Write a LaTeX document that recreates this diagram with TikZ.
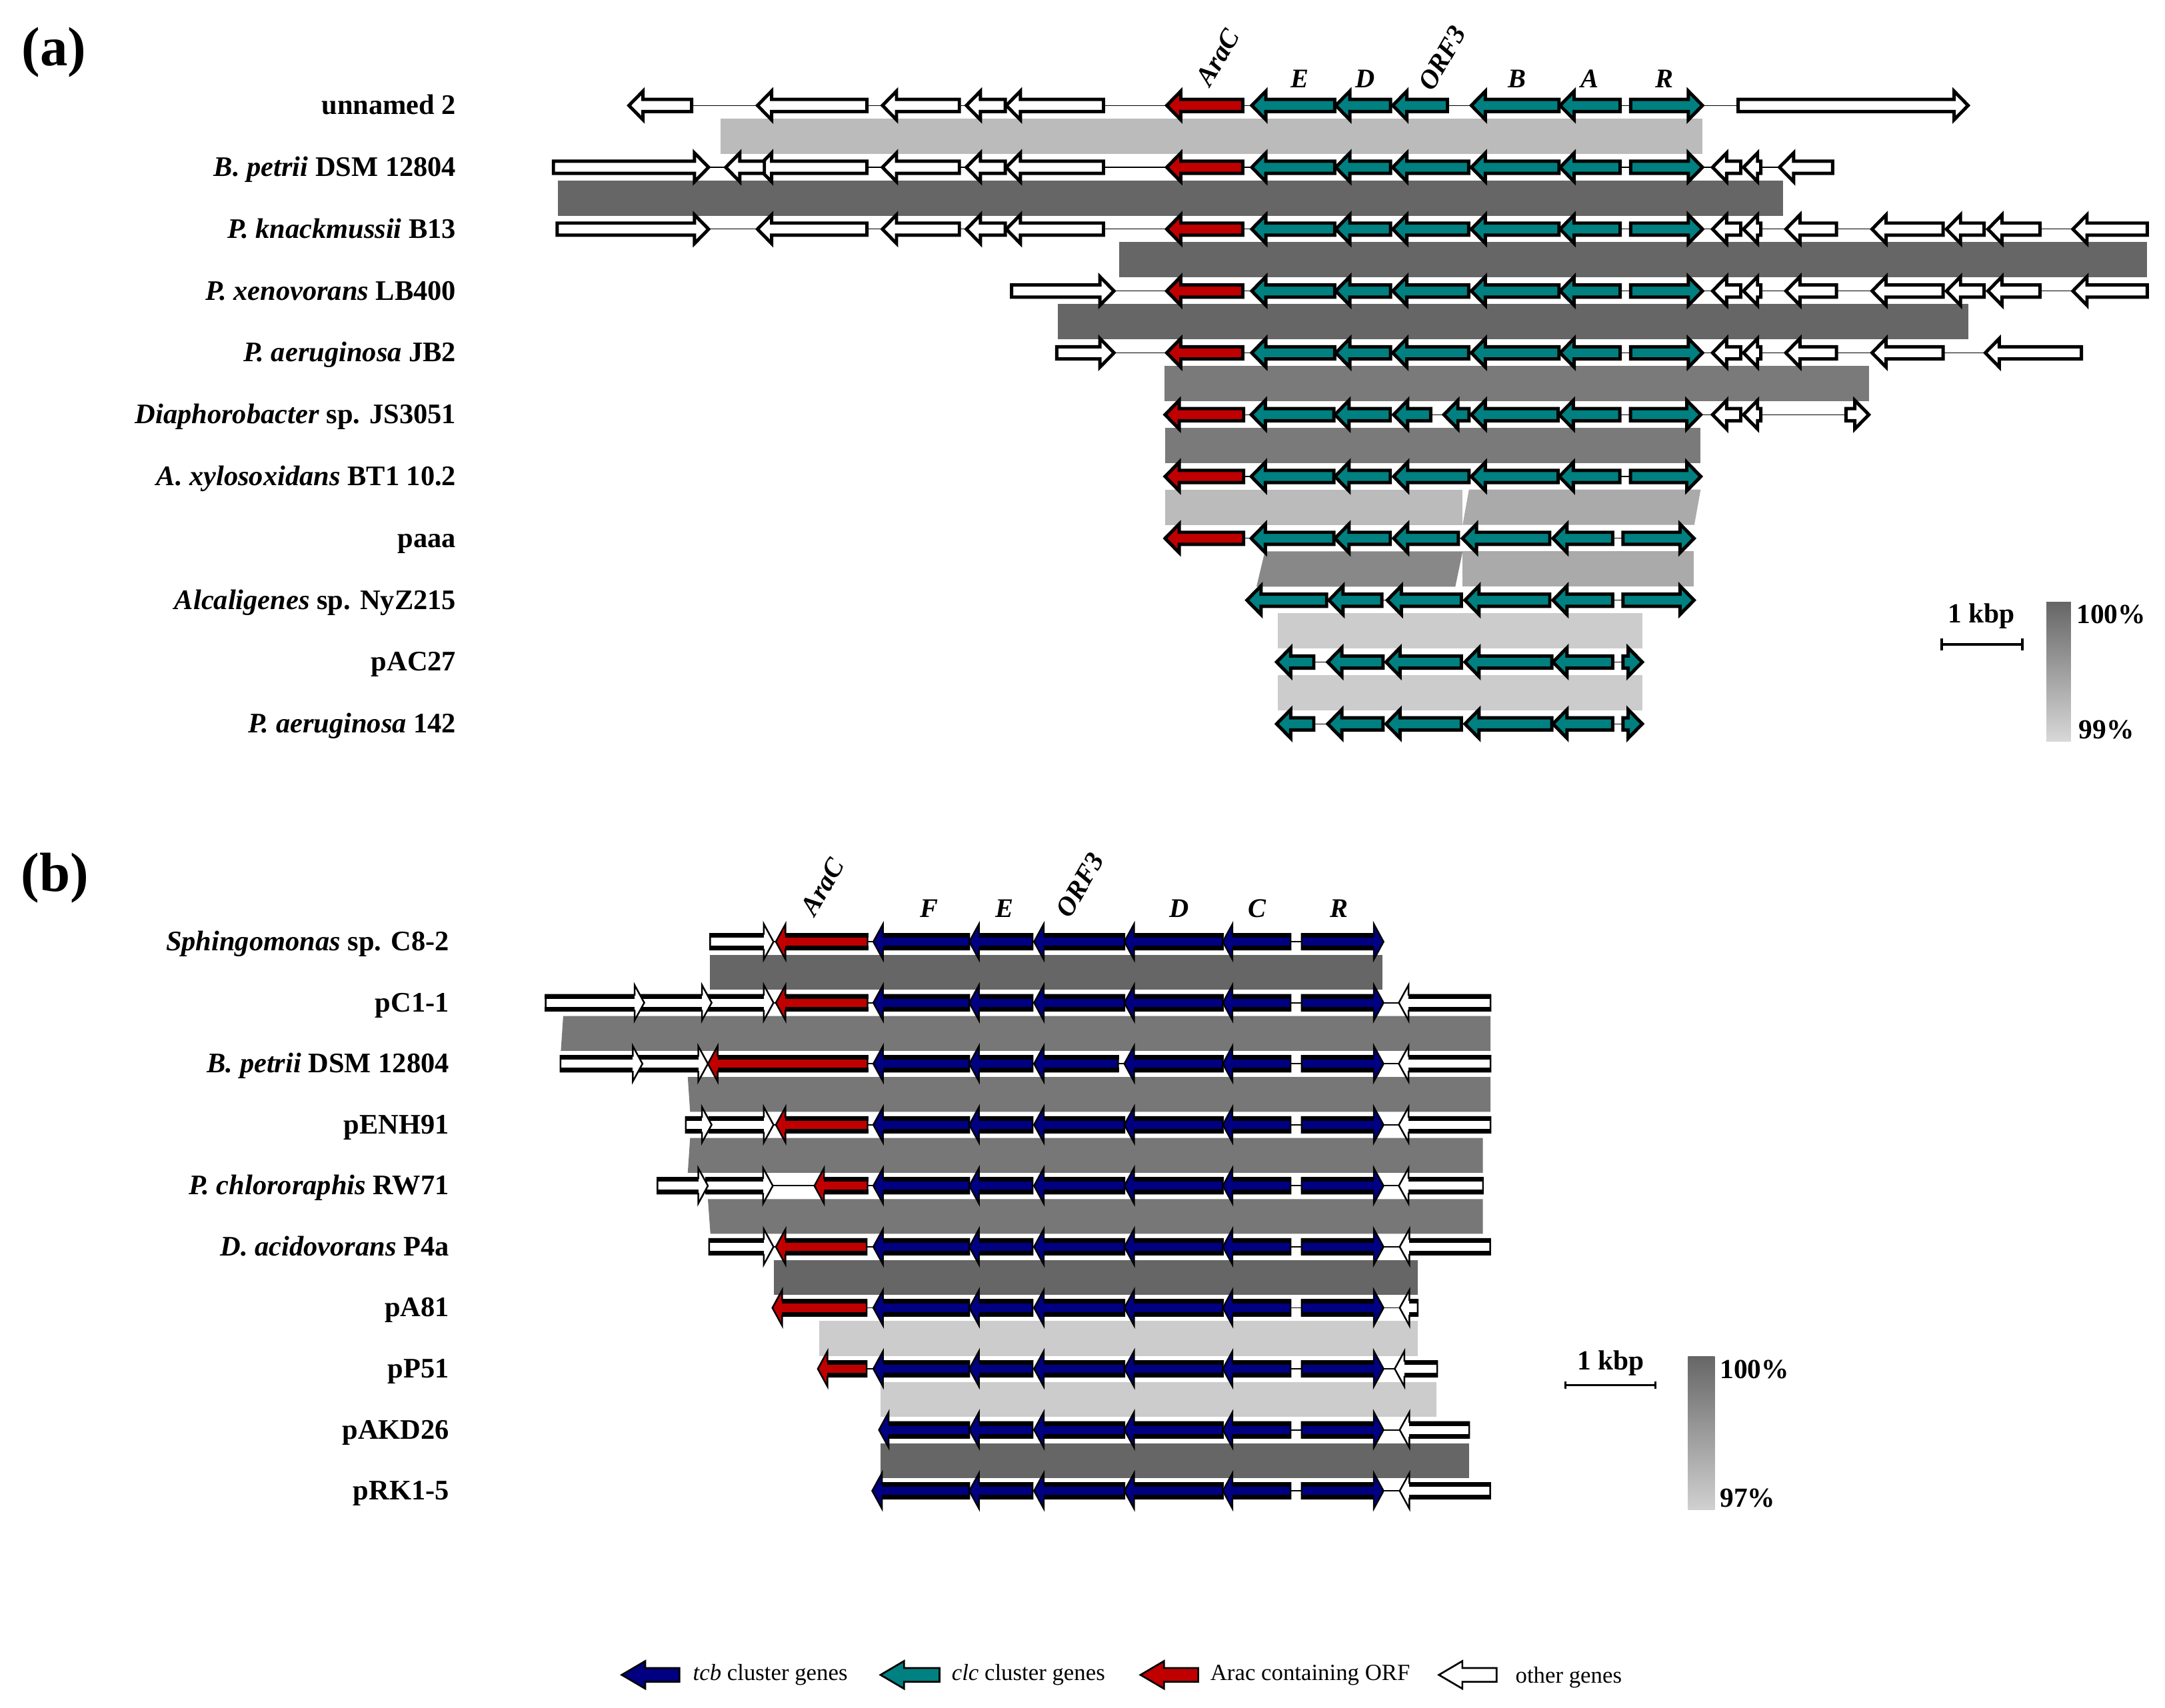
\documentclass[tikz,border=0pt]{standalone}
\usepackage{fontspec}
\setmainfont{Liberation Serif}
\definecolor{teal2}{HTML}{008080}
\definecolor{red2}{HTML}{C00000}
\definecolor{navy2}{HTML}{000080}
\definecolor{bandA}{HTML}{666666}
\definecolor{bandB}{HTML}{7A7A7A}
\definecolor{bandC}{HTML}{BBBBBB}
\definecolor{bandD}{HTML}{AAAAAA}
\definecolor{bandE}{HTML}{888888}
\definecolor{bandF}{HTML}{CCCCCC}
\definecolor{bandG}{HTML}{777777}
% panel (a) genes: left-pointing (tip,end,y,colour) and right-pointing (start,tip,y,colour)
\newcommand\gLa[4]{\filldraw[fill=#4,draw=black,line width=2.4pt] (#1+0.8,#3) -- (#1+11,#3-10.4) -- (#1+11,#3-4.4) -- (#2,#3-4.4) -- (#2,#3+4.4) -- (#1+11,#3+4.4) -- (#1+11,#3+10.4) -- cycle;}
\newcommand\gRa[4]{\filldraw[fill=#4,draw=black,line width=2.4pt] (#2-0.8,#3) -- (#2-11,#3-10.4) -- (#2-11,#3-4.4) -- (#1,#3-4.4) -- (#1,#3+4.4) -- (#2-11,#3+4.4) -- (#2-11,#3+10.4) -- cycle;}
% panel (b) genes
\newcommand\gLb[4]{\filldraw[fill=#4,draw=black,line width=1.2pt] (#1,#3) -- (#1+7,#3-12.8) -- (#1+7,#3-5.7) -- (#2,#3-5.7) -- (#2,#3+5.7) -- (#1+7,#3+5.7) -- (#1+7,#3+12.8) -- cycle;
 \fill[black] (#1+7,#3-6.3) rectangle (#2+0.6,#3-2.9);
 \fill[black] (#1+7,#3+2.9) rectangle (#2+0.6,#3+6.3);}
\newcommand\gRb[4]{\filldraw[fill=#4,draw=black,line width=1.2pt] (#2,#3) -- (#2-7,#3-12.8) -- (#2-7,#3-5.7) -- (#1,#3-5.7) -- (#1,#3+5.7) -- (#2-7,#3+5.7) -- (#2-7,#3+12.8) -- cycle;
 \fill[black] (#1-0.6,#3-6.3) rectangle (#2-7,#3-2.9);
 \fill[black] (#1-0.6,#3+2.9) rectangle (#2-7,#3+6.3);}
% legend arrow
\newcommand\gLeg[3]{\filldraw[fill=#3,draw=black,line width=1.3pt] (#1,1213.3) -- (#1+17,1203.3) -- (#1+17,1208.3) -- (#2,1208.3) -- (#2,1218.3) -- (#1+17,1218.3) -- (#1+17,1223.3) -- cycle;}
\newcommand\coreA[1]{%
 \gLa{844.2}{900}{#1}{red2}
 \gLa{905.8}{966.6}{#1}{teal2}
 \gLa{966.6}{1007.1}{#1}{teal2}
 \gLa{1007.9}{1063.7}{#1}{teal2}
 \gLa{1064.8}{1129.1}{#1}{teal2}
 \gLa{1129.1}{1173.4}{#1}{teal2}
 \gRa{1181}{1233.8}{#1}{teal2}}
\newcommand\leftA[1]{%
 \gLa{547.8}{627.9}{#1}{white}
 \gLa{638.3}{694.8}{#1}{white}
 \gLa{699.1}{728}{#1}{white}
 \gLa{728}{799.2}{#1}{white}}
\newcommand\rightA[1]{%
 \gLa{1239.5}{1260.7}{#1}{white}
 \gLa{1261.9}{1275.3}{#1}{white}
 \gLa{1292.6}{1330}{#1}{white}
 \gLa{1355}{1407.3}{#1}{white}}
\newcommand\tailA[1]{%
 \gLa{1408.9}{1437}{#1}{white}
 \gLa{1438.9}{1477.4}{#1}{white}
 \gLa{1500.5}{1555.1}{#1}{white}}
\newcommand\coreB[1]{%
 \gLb{702}{747.8}{#1}{navy2}
 \gLb{814.3}{885.6}{#1}{navy2}
 \gLb{885.6}{934.7}{#1}{navy2}
 \gRb{942.8}{1002}{#1}{navy2}}
\tikzset{
 lab/.style={font=\fontsize{20.5}{24}\selectfont\bfseries, anchor=base east, inner sep=0pt},
 glab/.style={font=\fontsize{19.5}{23}\selectfont\bfseries\itshape, inner sep=0pt},
 plab/.style={font=\fontsize{40}{44}\selectfont\bfseries, anchor=base west, inner sep=0pt},
 sclab/.style={font=\fontsize{20}{24}\selectfont\bfseries, inner sep=0pt},
 leglab/.style={font=\fontsize{16.8}{20}\selectfont, anchor=base west, inner sep=0pt},
 bb/.style={line width=0.6pt, black},
 bbb/.style={line width=0.9pt, black}
}
\begin{document}
\begin{tikzpicture}[x=1pt,y=-1pt]
\fill[white] (0,0) rectangle (1568,1237);
\useasboundingbox (0,0) rectangle (1568,1237);

% ================= panel (a) =================
\node[plab] (pa) at (15.5,47.5) {(a)};

% bands
\fill[bandC] (521.7,85.8) rectangle (1233,111.4);
\fill[bandA] (403.9,130.6) rectangle (1291.5,156.2);
\fill[bandA] (810.3,175.4) rectangle (1555.1,201);
\fill[bandA] (766,220.2) rectangle (1425.4,245.8);
\fill[bandB] (843.4,265) rectangle (1353.5,290.6);
\fill[bandB] (843.8,309.8) rectangle (1231.7,335.4);
\fill[bandC] (843.8,354.6) rectangle (1059.3,380.2);
\fill[bandD] (1063.9,354.6) -- (1231.7,354.6) -- (1227.1,380.2) -- (1059.3,380.2) -- cycle;
\fill[bandE] (916.1,399.4) -- (1059.3,399.4) -- (1054,425) -- (910,425) -- cycle;
\fill[bandD] (1059.3,399.4) rectangle (1226.5,425);
\fill[bandF] (925.4,444.2) rectangle (1189.5,469.8);
\fill[bandF] (925.4,489) rectangle (1189.5,514.6);

% backbones
\draw[bb] (454.7,76.4) -- (1426.2,76.4);
\draw[bb] (400.8,121.2) -- (1327.3,121.2);
\draw[bb] (403.5,166) -- (1555.1,166);
\draw[bb] (732.6,210.8) -- (1555.1,210.8);
\draw[bb] (765.3,255.6) -- (1507.4,255.6);
\draw[bb] (842.9,300.4) -- (1354.3,300.4);
\draw[bb] (843,345.2) -- (1232.6,345.2);
\draw[bb] (843,390) -- (1227.7,390);
\draw[bb] (902.3,434.8) -- (1227.7,434.8);
\draw[bb] (923.8,479.6) -- (1190.2,479.6);
\draw[bb] (923.8,524.4) -- (1190.2,524.4);

% row 1 unnamed 2
\gLa{454.7}{500.9}{76.4}{white}
\leftA{76.4}
\gLa{844.2}{900}{76.4}{red2}
\gLa{905.8}{966.6}{76.4}{teal2}
\gLa{966.6}{1007.1}{76.4}{teal2}
\gLa{1007.9}{1048.3}{76.4}{teal2}
\gLa{1064.8}{1129.1}{76.4}{teal2}
\gLa{1129.1}{1173.4}{76.4}{teal2}
\gRa{1181}{1233.8}{76.4}{teal2}
\gRa{1258.8}{1426.2}{76.4}{white}
% row 2 B. petrii
\gRa{400.8}{514}{121.2}{white}
\leftA{121.2}
\gLa{524.8}{553.6}{121.2}{white}
\coreA{121.2}
\gLa{1239.5}{1260.7}{121.2}{white}
\gLa{1261.9}{1275.3}{121.2}{white}
\gLa{1288}{1327.3}{121.2}{white}
% row 3 P. knackmussii
\gRa{403.5}{514}{166}{white}
\leftA{166}
\coreA{166}
\rightA{166}
\tailA{166}
% row 4 P. xenovorans
\gRa{732.6}{807.6}{210.8}{white}
\coreA{210.8}
\rightA{210.8}
\tailA{210.8}
% row 5 P. aeruginosa JB2
\gRa{765.3}{807.6}{255.6}{white}
\coreA{255.6}
\rightA{255.6}
\gLa{1437}{1507.4}{255.6}{white}
% row 6 Diaphorobacter
\gLa{843}{900.7}{300.4}{red2}
\gLa{905.4}{966}{300.4}{teal2}
\gLa{966}{1006.9}{300.4}{teal2}
\gLa{1008.5}{1036.2}{300.4}{teal2}
\gLa{1044.9}{1063.9}{300.4}{teal2}
\gLa{1064.8}{1128.5}{300.4}{teal2}
\gLa{1128.5}{1173.2}{300.4}{teal2}
\gRa{1180.9}{1232.6}{300.4}{teal2}
\gLa{1239.5}{1260.7}{300.4}{white}
\gLa{1261.9}{1275.3}{300.4}{white}
\gRa{1336.9}{1354.3}{300.4}{white}
% row 7 A. xylosoxidans
\gLa{843}{900.7}{345.2}{red2}
\gLa{905.4}{966}{345.2}{teal2}
\gLa{966}{1006.9}{345.2}{teal2}
\gLa{1008.5}{1063.9}{345.2}{teal2}
\gLa{1064.8}{1128.5}{345.2}{teal2}
\gLa{1128.5}{1173.2}{345.2}{teal2}
\gRa{1180.9}{1232.6}{345.2}{teal2}
% row 8 paaa
\gLa{843}{900.7}{390}{red2}
\gLa{905.4}{966}{390}{teal2}
\gLa{966}{1006.9}{390}{teal2}
\gLa{1008.5}{1056.2}{390}{teal2}
\gLa{1058.4}{1122.4}{390}{teal2}
\gLa{1123.9}{1168}{390}{teal2}
\gRa{1175.4}{1227.7}{390}{teal2}
% row 9 Alcaligenes
\gLa{902.3}{960.8}{434.8}{teal2}
\gLa{961.7}{1000.8}{434.8}{teal2}
\gLa{1003.9}{1058.4}{434.8}{teal2}
\gLa{1060.2}{1122.4}{434.8}{teal2}
\gLa{1123.9}{1168}{434.8}{teal2}
\gRa{1175.4}{1227.7}{434.8}{teal2}
% rows 10, 11
\foreach \yy in {479.6,524.4}{
 \gLa{923.8}{951.5}{\yy}{teal2}
 \gLa{960.8}{1001.7}{\yy}{teal2}
 \gLa{1003}{1058.4}{\yy}{teal2}
 \gLa{1060.2}{1123.9}{\yy}{teal2}
 \gLa{1123.9}{1168}{\yy}{teal2}
 \gRa{1175.4}{1190.2}{\yy}{teal2}
}

% gene names (a)
\node[glab, rotate=60] (gaA) at (882,41.5) {AraC};
\node[glab, anchor=base] (gaE) at (941.5,63.5) {E};
\node[glab, anchor=base] (gaD) at (988.7,63.5) {D};
\node[glab, rotate=60] (gaO) at (1044.5,42.2) {ORF3};
\node[glab, anchor=base] (gaB) at (1098.7,63.5) {B};
\node[glab, anchor=base] (gaAA) at (1151.2,63.5) {A};
\node[glab, anchor=base] (gaR) at (1205.5,63.5) {R};

% row labels (a)
\node[lab] (la1) at (330.5,82.9) {unnamed 2};
\node[lab] (la2) at (330.5,127.7) {\textit{B. petrii} DSM 12804};
\node[lab] (la3) at (330.5,172.5) {\textit{P. knackmussii} B13};
\node[lab] (la4) at (330.5,217.3) {\textit{P. xenovorans} LB400};
\node[lab] (la5) at (330.5,262.1) {\textit{P. aeruginosa} JB2};
\node[lab] (la6) at (330.5,306.9) {\textit{Diaphorobacter} sp. JS3051};
\node[lab] (la7) at (330.5,351.7) {\textit{A. xylosoxidans} BT1 10.2};
\node[lab] (la8) at (330.5,396.5) {paaa};
\node[lab] (la9) at (330.5,441.3) {\textit{Alcaligenes} sp. NyZ215};
\node[lab] (la10) at (330.5,486.1) {pAC27};
\node[lab] (la11) at (330.5,530.9) {\textit{P. aeruginosa} 142};

% scale (a)
\coordinate (sa1) at (1406.4,466.7);
\coordinate (sa2) at (1464.7,466.7);
\draw[line width=2pt] (sa1) -- (sa2);
\draw[line width=2pt] (1406.4,462.4) -- (1406.4,471);
\draw[line width=2pt] (1464.7,462.4) -- (1464.7,471);
\node[sclab, anchor=base] (ska) at (1435,450.9) {1 kbp};
\shade[top color=bandA, bottom color={rgb,255:red,216;green,216;blue,216}] (1482.1,436.1) rectangle (1499.8,537);
\node[sclab, anchor=base west] (pa100) at (1503.8,451.4) {100\%};
\node[sclab, anchor=base west] (pa99) at (1505.4,535.1) {99\%};

% ================= panel (b) =================
\node[plab] (pb) at (15.1,645.9) {(b)};

% bands
\fill[bandA] (514.3,691.8) rectangle (1001,717);
\fill[bandG] (407.9,736) -- (1079.5,736) -- (1079.5,761.2) -- (406.2,761.2) -- cycle;
\fill[bandG] (498.1,780.2) -- (1079.5,780.2) -- (1079.5,805.4) -- (499.8,805.4) -- cycle;
\fill[bandG] (499.8,824.4) -- (1074,824.4) -- (1074,849.6) -- (498.1,849.6) -- cycle;
\fill[bandG] (512.7,868.6) -- (1074,868.6) -- (1074,893.8) -- (514.5,893.8) -- cycle;
\fill[bandA] (560.5,912.8) rectangle (1026.8,938);
\fill[bandF] (593.1,957) rectangle (1026.8,982.2);
\fill[bandF] (637.7,1001.2) rectangle (1040.2,1026.4);
\fill[bandA] (637.7,1045.4) rectangle (1064,1070.6);

% backbones
\draw[bbb] (514.3,682.2) -- (1002,682.2);
\draw[bbb] (395.2,726.4) -- (1079.5,726.4);
\draw[bbb] (405.9,770.6) -- (1079.5,770.6);
\draw[bbb] (496.7,814.8) -- (1079.5,814.8);
\draw[bbb] (476.2,859) -- (1074,859);
\draw[bbb] (513.6,903.2) -- (1079.2,903.2);
\draw[bbb] (559.4,947.4) -- (1026.8,947.4);
\draw[bbb] (592.3,991.6) -- (1040.9,991.6);
\draw[bbb] (636.6,1035.8) -- (1064,1035.8);
\draw[bbb] (631.7,1080) -- (1079.2,1080);

% row 1 Sphingomonas
\gRb{514.3}{560.2}{682.2}{white}
\gLb{561.9}{628.3}{682.2}{red2}
\gLb{632.5}{702}{682.2}{navy2}
\gLb{748.9}{814.3}{682.2}{navy2}
\coreB{682.2}
% row 2 pC1-1
\gRb{512}{560.2}{726.4}{white}
\gRb{463}{515.4}{726.4}{white}
\gRb{395.2}{466.6}{726.4}{white}
\gLb{561.9}{628.3}{726.4}{red2}
\gLb{632.5}{702}{726.4}{navy2}
\gLb{748.9}{814.3}{726.4}{navy2}
\coreB{726.4}
\gLb{1013.1}{1079.5}{726.4}{white}
% row 3 B. petrii
\gRb{462}{512.7}{770.6}{white}
\gRb{405.9}{465.3}{770.6}{white}
\gLb{512.7}{628.3}{770.6}{red2}
\gLb{632.5}{702}{770.6}{navy2}
\gLb{748.9}{809.8}{770.6}{navy2}
\coreB{770.6}
\gLb{1013.1}{1079.5}{770.6}{white}
% row 4 pENH91
\gRb{514}{560.2}{814.8}{white}
\gRb{496.7}{515.4}{814.8}{white}
\gLb{561.9}{628.3}{814.8}{red2}
\gLb{632.5}{702}{814.8}{navy2}
\gLb{748.9}{814.3}{814.8}{navy2}
\coreB{814.8}
\gLb{1013.1}{1079.5}{814.8}{white}
% row 5 P. chlororaphis
\gRb{511.5}{559.7}{859}{white}
\gRb{476.2}{512.7}{859}{white}
\gLb{589.8}{628.3}{859}{red2}
\gLb{632.5}{702}{859}{navy2}
\gLb{748.9}{814.3}{859}{navy2}
\coreB{859}
\gLb{1013.1}{1074}{859}{white}
% row 6 D. acidovorans
\gRb{513.6}{560.2}{903.2}{white}
\gLb{561.9}{627.7}{903.2}{red2}
\gLb{632.5}{702}{903.2}{navy2}
\gLb{748.9}{814.3}{903.2}{navy2}
\coreB{903.2}
\gLb{1013.7}{1079.2}{903.2}{white}
% row 7 pA81
\gLb{559.4}{627.7}{947.4}{red2}
\gLb{632.5}{702}{947.4}{navy2}
\gLb{748.9}{814.3}{947.4}{navy2}
\coreB{947.4}
\gLb{1013.7}{1026.8}{947.4}{white}
% row 8 pP51
\gLb{592.3}{627.7}{991.6}{red2}
\gLb{632.5}{702}{991.6}{navy2}
\gLb{748.9}{814.3}{991.6}{navy2}
\coreB{991.6}
\gLb{1010.1}{1040.9}{991.6}{white}
% row 9 pAKD26
\gLb{636.6}{702}{1035.8}{navy2}
\gLb{748.9}{814.3}{1035.8}{navy2}
\coreB{1035.8}
\gLb{1013.7}{1064}{1035.8}{white}
% row 10 pRK1-5
\gLb{631.7}{702}{1080}{navy2}
\gLb{748.9}{814.3}{1080}{navy2}
\coreB{1080}
\gLb{1013.7}{1079.2}{1080}{white}

% gene names (b)
\node[glab, rotate=60] (gbA) at (595.6,642.4) {AraC};
\node[glab, anchor=base] (gbF) at (673,664.5) {F};
\node[glab, anchor=base] (gbE) at (727.6,664.5) {E};
\node[glab, rotate=60] (gbO) at (782.1,641.1) {ORF3};
\node[glab, anchor=base] (gbD) at (853.8,664.5) {D};
\node[glab, anchor=base] (gbC) at (910.5,664.5) {C};
\node[glab, anchor=base] (gbR) at (970,664.5) {R};

% row labels (b)
\node[lab] (lb1) at (325.5,688.7) {\textit{Sphingomonas} sp. C8-2};
\node[lab] (lb2) at (325.5,732.9) {pC1-1};
\node[lab] (lb3) at (325.5,777.1) {\textit{B. petrii} DSM 12804};
\node[lab] (lb4) at (325.5,821.3) {pENH91};
\node[lab] (lb5) at (325.5,865.5) {\textit{P. chlororaphis} RW71};
\node[lab] (lb6) at (325.5,909.7) {\textit{D. acidovorans} P4a};
\node[lab] (lb7) at (325.5,953.9) {pA81};
\node[lab] (lb8) at (325.5,998.1) {pP51};
\node[lab] (lb9) at (325.5,1042.3) {pAKD26};
\node[lab] (lb10) at (325.5,1086.5) {pRK1-5};

% scale (b)
\coordinate (sb1) at (1133.7,1003.3);
\coordinate (sb2) at (1198.8,1003.3);
\draw[line width=1.7pt] (sb1) -- (sb2);
\draw[line width=1.7pt] (1133.7,1000.6) -- (1133.7,1006);
\draw[line width=1.7pt] (1198.8,1000.6) -- (1198.8,1006);
\node[sclab, anchor=base] (skb) at (1166.7,992.1) {1 kbp};
\shade[top color=bandA, bottom color={rgb,255:red,208;green,208;blue,208}] (1222.5,982.4) rectangle (1241.8,1093.5);
\node[sclab, anchor=base west] (pb100) at (1245.5,998.5) {100\%};
\node[sclab, anchor=base west] (pb97) at (1245.5,1091.9) {97\%};

% ================= legend =================
\gLeg{450.3}{492.1}{navy2}
\node[leglab] (lg1) at (501.7,1217.4) {\textit{tcb} cluster genes};
\gLeg{637.7}{680.4}{teal2}
\node[leglab] (lg2) at (689.1,1217.4) {\textit{clc} cluster genes};
\gLeg{826}{867.8}{red2}
\node[leglab] (lg3) at (876.4,1217.4) {Arac containing ORF};
\gLeg{1042.1}{1083.9}{white}
\node[leglab] (lg4) at (1097.4,1219) {other genes};
\end{tikzpicture}
\end{document}
